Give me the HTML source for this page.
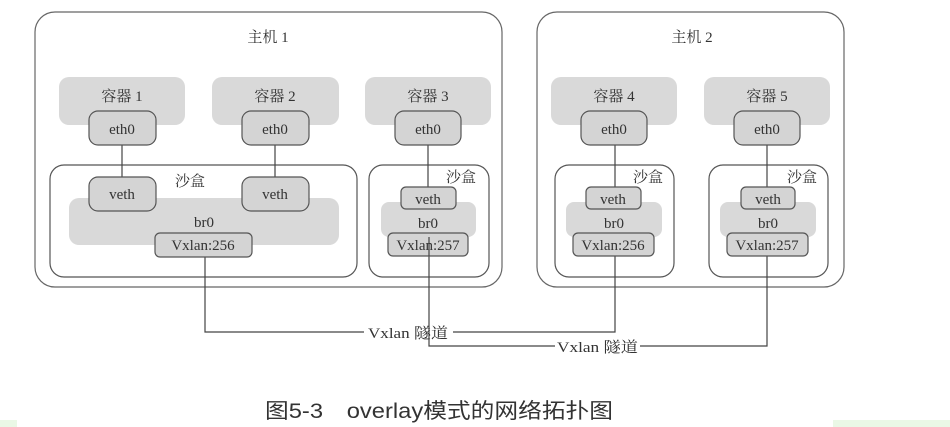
<!DOCTYPE html>
<html><head><meta charset="utf-8"><style>
body{margin:0;background:#fff;width:950px;height:427px;overflow:hidden;position:relative}
svg{position:absolute;left:0;top:0}
.t{font-family:"Liberation Serif","Noto Serif CJK SC",serif;fill:#333}
</style></head><body>
<svg width="950" height="427" viewBox="0 0 950 427">
<rect x="0" y="420" width="17" height="7" fill="#eaf8e6"/>
<rect x="833" y="420" width="117" height="7" fill="#eaf8e6"/>
<g fill="none" stroke="#666" stroke-width="1.2">
<rect x="35" y="12" width="467" height="275" rx="20"/>
<rect x="537" y="12" width="307" height="275" rx="20"/>
</g>
<g fill="#d9d9d9">
<rect x="59" y="77" width="126" height="48" rx="10"/>
<rect x="212" y="77" width="127" height="48" rx="10"/>
<rect x="365" y="77" width="126" height="48" rx="10"/>
<rect x="551" y="77" width="126" height="48" rx="10"/>
<rect x="704" y="77" width="126" height="48" rx="10"/>
</g>
<g fill="none" stroke="#555" stroke-width="1.2">
<rect x="50" y="165" width="307" height="112" rx="14"/>
<rect x="369" y="165" width="120" height="112" rx="14"/>
<rect x="555" y="165" width="119" height="112" rx="14"/>
<rect x="709" y="165" width="119" height="112" rx="14"/>
</g>
<g fill="#d9d9d9">
<rect x="69" y="198" width="270" height="47" rx="10"/>
<rect x="381" y="202" width="95" height="35" rx="8"/>
<rect x="566" y="202" width="96" height="35" rx="8"/>
<rect x="720" y="202" width="96" height="35" rx="8"/>
</g>
<g stroke="#444" stroke-width="1.2" fill="none">
<line x1="122" y1="145" x2="122" y2="177"/>
<line x1="275" y1="145" x2="275" y2="177"/>
<line x1="428" y1="145" x2="428" y2="187"/>
<line x1="615" y1="145" x2="615" y2="187"/>
<line x1="767" y1="145" x2="767" y2="187"/>
<polyline points="205,257 205,332 364,332"/>
<polyline points="453,332 615,332 615,256"/>
<polyline points="429,256 429,346 555,346"/>
<polyline points="640,346 767,346 767,256"/>
</g>
<g fill="#d4d4d4" stroke="#555" stroke-width="1.2">
<rect x="89" y="111" width="67" height="34" rx="9"/>
<rect x="242" y="111" width="67" height="34" rx="9"/>
<rect x="395" y="111" width="66" height="34" rx="9"/>
<rect x="581" y="111" width="66" height="34" rx="9"/>
<rect x="734" y="111" width="66" height="34" rx="9"/>
<rect x="89" y="177" width="67" height="34" rx="9"/>
<rect x="242" y="177" width="67" height="34" rx="9"/>
<rect x="401" y="187" width="55" height="22" rx="5"/>
<rect x="586" y="187" width="55" height="22" rx="5"/>
<rect x="741" y="187" width="54" height="22" rx="5"/>
<rect x="155" y="233" width="97" height="24" rx="5"/>
<rect x="388" y="233" width="80" height="23" rx="5"/>
<rect x="573" y="233" width="81" height="23" rx="5"/>
<rect x="727" y="233" width="81" height="23" rx="5"/>
</g>
<line x1="429" y1="237" x2="429" y2="256" stroke="#444" stroke-width="1.2"/>
<g class="t" font-size="15" text-anchor="middle">
<text x="268" y="42">主机 1</text>
<text x="692" y="42">主机 2</text>
<text x="122" y="101">容器 1</text>
<text x="275" y="101">容器 2</text>
<text x="428" y="101">容器 3</text>
<text x="614" y="101">容器 4</text>
<text x="767" y="101">容器 5</text>
<text x="122" y="134">eth0</text>
<text x="275" y="134">eth0</text>
<text x="428" y="134">eth0</text>
<text x="614" y="134">eth0</text>
<text x="767" y="134">eth0</text>
<text x="190" y="186">沙盒</text>
<text x="461" y="182">沙盒</text>
<text x="648" y="182">沙盒</text>
<text x="802" y="182">沙盒</text>
<text x="122" y="199">veth</text>
<text x="275" y="199">veth</text>
<text x="428" y="204">veth</text>
<text x="613" y="204">veth</text>
<text x="768" y="204">veth</text>
<text x="204" y="227">br0</text>
<text x="428" y="228">br0</text>
<text x="614" y="228">br0</text>
<text x="768" y="228">br0</text>
<text x="203" y="250">Vxlan:256</text>
<text x="428" y="250">Vxlan:257</text>
<text x="613" y="250">Vxlan:256</text>
<text x="767" y="250">Vxlan:257</text>
</g>
<g class="t" font-size="15">
<text x="368" y="338" textLength="80" lengthAdjust="spacingAndGlyphs">Vxlan 隧道</text>
<text x="557" y="352" textLength="81" lengthAdjust="spacingAndGlyphs">Vxlan 隧道</text>
</g>
<text x="265" y="418" font-size="21" fill="#333" textLength="348" lengthAdjust="spacingAndGlyphs" font-family="Liberation Sans,Noto Sans CJK SC,sans-serif">图5-3　overlay模式的网络拓扑图</text>
</svg>
</body></html>
